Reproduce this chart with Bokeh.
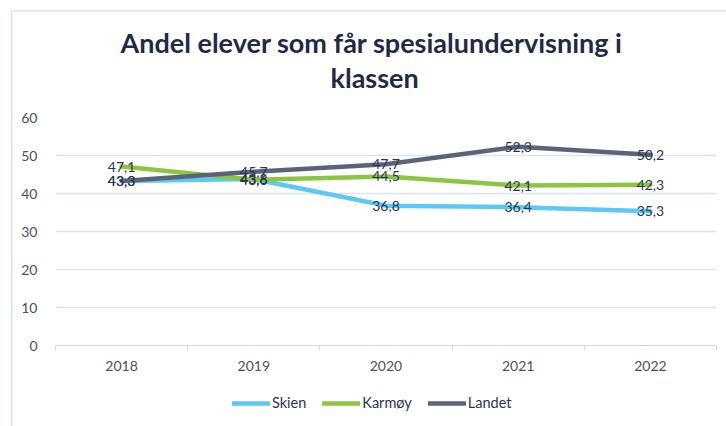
from bokeh.plotting import figure
from bokeh.layouts import column
from bokeh.models import (ColumnDataSource, FixedTicker, Legend, LegendItem, Title, Range1d)
from bokeh.core.properties import value
from bokeh.embed import file_html
from bokeh.resources import INLINE

years = ["2018", "2019", "2020", "2021", "2022"]
skien = [43.3, 43.8, 36.8, 36.4, 35.3]
karmoy = [47.1, 43.6, 44.5, 42.1, 42.3]
landet = [43.3, 45.7, 47.7, 52.3, 50.2]
series_names = ["Skien", "Karmøy", "Landet"]
series_colors = ["#5BC8F5", "#8CC63F", "#5B6378"]
title_lines = ["Andel elever som får spesialundervisning i", "klassen"]

FONT = "Lato"
TEXT = "#2B3552"
GRID = "#DCE3F0"
BORDER = "#DCE3F0"

xs = list(range(len(years)))
series = [skien, karmoy, landet]

p = figure(width=726, height=385, x_range=Range1d(-0.5, len(years) - 0.5),
           y_range=Range1d(0, 60), output_backend="svg", toolbar_location=None,
           min_border_left=55, min_border_right=10, min_border_top=117,
           min_border_bottom=40)
p.outline_line_color = None
p.background_fill_color = "white"
p.border_fill_alpha = 0
p.styles = {"background": f"linear-gradient({BORDER},{BORDER}) 11px 10px / 100% 1.5px no-repeat, "
                          f"linear-gradient({BORDER},{BORDER}) 11px 10px / 1.5px 100% no-repeat, white"}

# axes
p.yaxis.ticker = FixedTicker(ticks=[0, 10, 20, 30, 40, 50, 60])
p.yaxis.axis_line_color = None
p.yaxis.major_tick_line_color = None
p.yaxis.minor_tick_line_color = None
p.yaxis.major_label_standoff = 12
p.yaxis.major_label_text_font = FONT
p.yaxis.major_label_text_font_size = "14px"
p.yaxis.major_label_text_color = "#4A5060"

p.xaxis.ticker = FixedTicker(ticks=xs, minor_ticks=[i - 0.5 for i in range(len(years) + 1)])
p.xaxis.major_label_overrides = {i: y for i, y in enumerate(years)}
p.xaxis.axis_line_color = "#D0D8E8"
p.xaxis.major_tick_line_color = None
p.xaxis.minor_tick_line_color = "#D0D8E8"
p.xaxis.minor_tick_out = 5
p.xaxis.minor_tick_in = 0
p.xaxis.major_label_standoff = 9
p.xaxis.major_label_text_font = FONT
p.xaxis.major_label_text_font_size = "14px"
p.xaxis.major_label_text_color = "#4A5060"

p.xgrid.grid_line_color = None
p.ygrid.grid_line_color = GRID
p.ygrid.grid_line_width = 1.5

sources = []
for name, vals, col in zip(series_names, series, series_colors):
    src = ColumnDataSource(dict(x=xs, y=vals, lab=[f"{v:.1f}".replace(".", ",") for v in vals]))
    p.line("x", "y", source=src, line_color=col, line_width=4.5, line_join="round", line_cap="round")
    sources.append(src)

for src in sources:
    p.text("x", "y", text="lab", source=src, text_align="center", text_baseline="middle",
           text_font=value(FONT), text_font_size="14px", text_color=TEXT)

# title (two lines, closest-to-frame first)
for t, so, off in [(title_lines[1], 48, 275), (title_lines[0], -48, 65)]:
    p.add_layout(Title(text=t, align="left", offset=off, text_font=FONT, text_font_style="bold",
                       text_font_size="27px", text_color="#1F2A48", standoff=so), "above")

# legend strip (its lines lie outside its own visible range; only the legend shows)
lg = figure(width=726, height=41, x_range=Range1d(0, 1), y_range=Range1d(0, 1),
            output_backend="svg", toolbar_location=None, x_axis_location=None,
            y_axis_location=None, min_border=0)
lg.outline_line_color = None
lg.grid.visible = False
lg.border_fill_alpha = 0
lg.background_fill_alpha = 0
lg.styles = {"background": f"linear-gradient({BORDER},{BORDER}) 11px 0px / 1.5px 100% no-repeat, white"}
items = []
for name, vals, col in zip(series_names, series, series_colors):
    r = lg.line(x=xs, y=vals, line_color=col, line_width=4.5, line_cap="round")
    items.append(LegendItem(label=name, renderers=[r]))
legend = Legend(items=items, orientation="horizontal", location=(177, 15),
                glyph_width=38, glyph_height=14, label_standoff=2, spacing=16,
                label_text_font=FONT, label_text_font_size="14.5px", label_text_color=TEXT,
                border_line_color=None, background_fill_alpha=0, padding=0, margin=0)
lg.add_layout(legend)

open("out.html", "w").write(file_html(column(p, lg, spacing=0), INLINE))
